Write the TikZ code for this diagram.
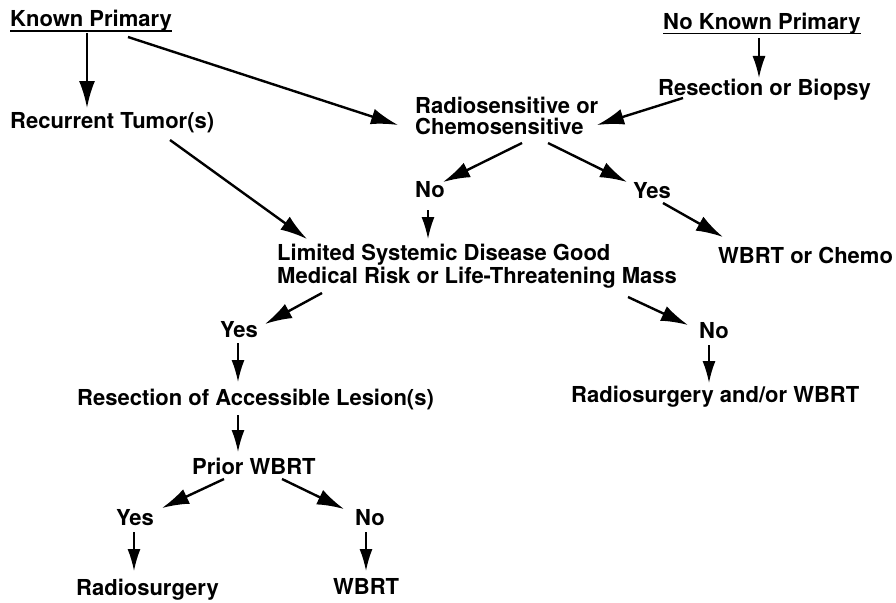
\documentclass[tikz,border=0pt]{standalone}
\usepackage{fontspec}
\setmainfont{TeX Gyre Heros}
\usetikzlibrary{arrows.meta}
\begin{document}
\begin{tikzpicture}[x=1pt,y=-1pt,
  lbl/.style={inner sep=0pt,anchor=base west,align=left,font=\fontsize{22}{21}\selectfont\bfseries},
  arr/.style={line width=2.4pt,-{Latex[length=27pt,width=16pt]}},
  sarr/.style={line width=1.7pt,-{Latex[length=22pt,width=13pt]}},
  ul/.style={line width=1.3pt}]
\useasboundingbox (0,0) rectangle (896,602);
\node[lbl] (kp) at (10,27) {Known Primary};
\node[lbl] (nkp) at (663,30) {No Known Primary};
\node[lbl] (rt) at (10,128) {Recurrent Tumor(s)};
\node[lbl] (rb) at (658,95) {Resection or Biopsy};
\node[lbl] (rc) at (415,134) {Radiosensitive or\\Chemosensitive};
\node[lbl] (no1) at (415,197) {No};
\node[lbl] (yes1) at (633,198) {Yes};
\node[lbl] (lsd) at (277,283) {Limited Systemic Disease Good\\Medical Risk or Life-Threatening Mass};
\node[lbl] (wc) at (718,263) {WBRT or Chemo};
\node[lbl] (yes2) at (220,337) {Yes};
\node[lbl] (no2) at (699,338) {No};
\node[lbl] (rae) at (77,405) {Resection of Accessible Lesion(s)};
\node[lbl] (rsw) at (571,402) {Radiosurgery and/or WBRT};
\node[lbl] (pw) at (192,474) {Prior WBRT};
\node[lbl] (yes3) at (116,525) {Yes};
\node[lbl] (no3) at (355,525) {No};
\node[lbl] (rs) at (76,595) {Radiosurgery};
\node[lbl] (wbrt) at (333,594) {WBRT};
% underlines
\draw[ul] ([yshift=-4pt]kp.base west) -- ([yshift=-4pt]kp.base east);
\draw[ul] ([yshift=-3.5pt]nkp.base west) -- ([yshift=-3.5pt]nkp.base east);
% arrows
\draw[arr] ([shift={(77,6)}]kp.base west) -- ([shift={(77,-20)}]rt.base west);
\draw[arr] ([shift={(118,10)}]kp.base west) -- ([shift={(-17,-9)}]rc.base west);
\draw[sarr] ([shift={(96,8)}]nkp.base west) -- ([shift={(101,-17)}]rb.base west);
\draw[arr] ([shift={(25,3)}]rb.base west) -- ([shift={(182,-9)}]rc.base west);
\draw[arr] ([shift={(107,9)}]rc.base west) -- ([shift={(28,-15)}]no1.base west);
\draw[arr] ([shift={(133,9)}]rc.base west) -- ([shift={(-6,-16)}]yes1.base west);
\draw[arr] ([shift={(30,5)}]yes1.base west) -- ([shift={(5,-26)}]wc.base west);
\draw[arr] ([shift={(160,12)}]rt.base west) -- ([shift={(30,-44)}]lsd.base west);
\draw[sarr] ([shift={(13,13)}]no1.base west) -- ([shift={(151,-44)}]lsd.base west);
\draw[arr] ([shift={(45,10)}]lsd.base west) -- ([shift={(45,-13)}]yes2.base west);
\draw[arr] ([shift={(351,14)}]lsd.base west) -- ([shift={(-11,-13)}]no2.base west);
\draw[sarr] ([shift={(18,6)}]yes2.base west) -- ([shift={(161,-23)}]rae.base west);
\draw[sarr] ([shift={(10,7)}]no2.base west) -- ([shift={(138,-19)}]rsw.base west);
\draw[sarr] ([shift={(161,10)}]rae.base west) -- ([shift={(46,-22)}]pw.base west);
\draw[arr] ([shift={(32,5)}]pw.base west) -- ([shift={(46,-17)}]yes3.base west);
\draw[arr] ([shift={(90,5)}]pw.base west) -- ([shift={(-11,-16)}]no3.base west);
\draw[sarr] ([shift={(18,7)}]yes3.base west) -- ([shift={(58,-24)}]rs.base west);
\draw[sarr] ([shift={(11,7)}]no3.base west) -- ([shift={(33,-23)}]wbrt.base west);
\end{tikzpicture}
\end{document}
